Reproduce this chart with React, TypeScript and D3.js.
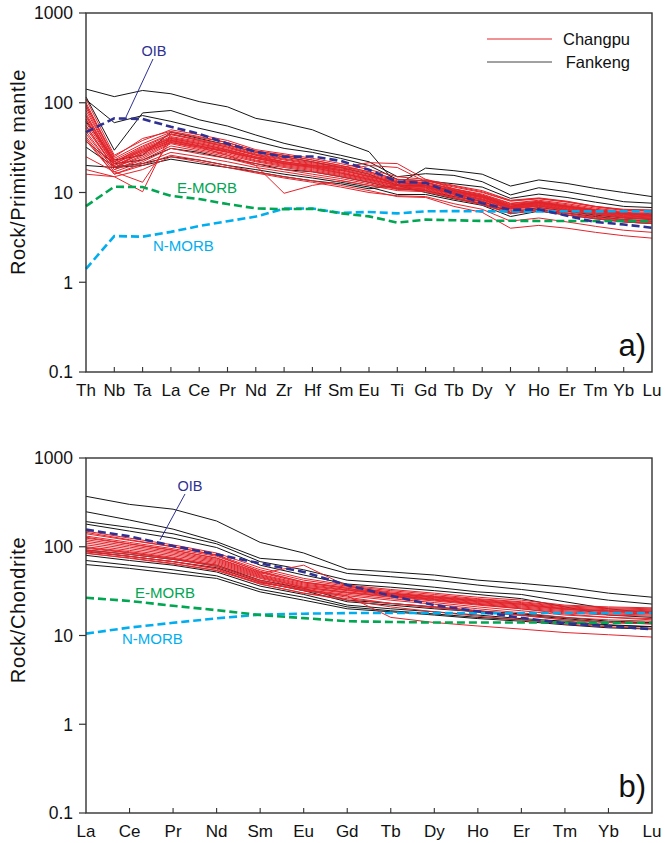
import React from "react";
import * as d3 from "d3";

// ---------- element orders ----------
const PM_ELEMENTS = ["Th","Nb","Ta","La","Ce","Pr","Nd","Zr","Hf","Sm","Eu","Ti","Gd","Tb","Dy","Y","Ho","Er","Tm","Yb","Lu"];
const REE_ELEMENTS = ["La","Ce","Pr","Nd","Sm","Eu","Gd","Tb","Dy","Ho","Er","Tm","Yb","Lu"];
const Y_TICKS = [0.1, 1, 10, 100, 1000];

// ---------- reference basalts, primitive-mantle normalised ----------
const OIB_PM = [47,67,66,54,45,35,28.4,25,25.2,22.5,17.9,13.2,12.8,9.7,7.6,6.4,6.5,5.5,4.7,4.4,4.05];
const EMORB_PM = [7.06,11.6,11.5,9.17,8.45,7.43,6.65,6.52,6.57,5.86,5.42,4.62,4.98,4.91,4.82,4.84,4.82,4.81,4.81,4.81,4.78];
const NMORB_PM = [1.41,3.27,3.22,3.64,4.23,4.78,5.39,6.61,6.63,5.92,6.07,5.85,6.17,6.2,6.17,6.15,6.16,6.19,6.16,6.19,6.15];

// ---------- reference basalts, chondrite normalised ----------
const OIB_C = [156,131,102,82,65,52,37,28,22,18.7,15.8,13.7,12.7,11.8];
const EMORB_C = [26.6,24.5,21.6,19.3,17,15.7,14.5,14.2,14,14,14,14,13.9,13.9];
const NMORB_C = [10.5,12.3,13.9,15.6,17.2,17.6,17.9,17.9,17.9,17.8,17.9,17.9,17.9,17.9];

// ---------- Fankeng samples, primitive-mantle normalised ----------
const FANKENG_PM = [
  [142,117,137,126,103,90,67,59,50,37,28.5,12.2,18.7,17.5,16,11.8,13.8,12.6,11.1,10,9],
  [116,29.6,77,82,64.6,55,43.7,35.3,30,26,22,15,16.2,15.5,13.2,9.4,11.3,10.2,9,7.9,7.6],
  [108,60,72,62,52,44,37,31,28,24,20,14,13.5,12.5,11.5,8.6,9.6,8.8,7.8,7,6.8],
  [62,23,26,47,40,34,28,25,22,19,16,12,12,10.5,9,7,7.8,7,6.3,5.8,5.6],
  [37,21,23,31,28,24,21,18,17,15,13,11,10.5,9,8,6,6.8,6.2,5.6,5.2,5],
  [32,19.4,21,25,23,20,18,16,14.5,13,11.5,9.5,9.5,8.2,7.2,5.4,6.2,5.6,5.1,4.7,4.5],
  [20,19,20,23.5,21,19,17,15,13.5,12.5,11,12,10,8.5,7.5,5.8,6.5,5.9,5.4,5,4.8],
];

// ---------- Changpu samples, primitive-mantle normalised ----------
const CHANGPU_PM = [
  [110,26,38,50,44,38,30,27,24,21,18,15,14,12,10.5,8.2,8.7,8,7,6.5,6.4],
  [100,24,35,47,41,36,29,26,23,20,17,14,13.5,11.5,10,8,8.5,7.8,6.9,6.3,6.2],
  [95,23,33,45,39,34,28,25,22,19.5,16.5,13.5,13,11,9.6,7.6,8.2,7.5,6.7,6.1,6],
  [88,22,32,44,38,33,27,24,21.5,19,16,13.2,12.8,10.8,9.4,7.5,8,7.3,6.5,6,5.8],
  [82,22,31,42,37,32,26.5,23.5,21,18.5,15.5,13,12.5,10.5,9.2,7.3,7.8,7.1,6.4,5.9,5.7],
  [76,21,30,41,36,31,26,23,20.5,18,15.2,12.8,12.2,10.3,9,7.2,7.7,7,6.3,5.8,5.6],
  [70,21,29,40,35,30,25,22,20,17.5,15,12.5,12,10.2,8.9,7,7.6,6.9,6.2,5.7,5.5],
  [65,20,28,39,34,29.5,24.5,21.5,19.5,17,14.6,12.3,11.8,10,8.7,6.9,7.5,6.8,6.1,5.6,5.4],
  [60,20,27,38,33,29,24,21,19,16.6,14.3,12,11.6,9.8,8.5,6.8,7.3,6.6,6,5.5,5.3],
  [56,19,26,37,32,28,23,20.5,18.5,16.2,14,11.8,11.4,9.6,8.3,6.7,7.2,6.5,5.9,5.4,5.2],
  [52,19,25,36,31,27,22.5,20,18,15.8,13.7,11.5,11.2,9.5,8.2,6.6,7.1,6.4,5.8,5.3,5.1],
  [48,18,24,35,30,26,22,19.5,17.5,15.4,13.4,11.3,11,9.3,8,6.5,7,6.3,5.7,5.2,5],
  [45,18,23,33,29,25,21,19,17,15,13,11,10.8,9.1,7.8,6.3,6.8,6.1,5.5,5,4.8],
  [42,17,22,31,27,24,20,18,16,14.3,12.5,10.8,10.5,8.8,7.6,6.1,6.6,5.9,5.3,4.9,4.7],
  [40,16,21,28,25,22,19,17,15.2,13.6,12,10.5,10.2,8.6,7.3,5.8,6.3,5.6,5.1,4.7,4.5],
  [18,15,10.2,45,38,32,26,22,20,18,15,13,12,10,8.8,6.8,7.4,6.7,6,5.5,5.3],
  [25,17,13,38,33,28,24,21,19,16.5,14,12,11.5,9.7,8.4,6.6,7.1,6.4,5.8,5.3,5.1],
  [55,19,28,36,32,26,20,9.8,12,13.5,12,11.2,10.5,8.7,7.5,5.9,6.4,5.8,5.2,4.8,4.6],
  [72,22,30,40,35,30,25,22,20,19,21.5,21,14,11,9.3,7.3,7.9,7.1,6.4,5.9,5.7],
  [66,21,29,38,33,28.5,24,21,19.5,17.5,20,19,13.2,10.6,9,7,7.6,6.9,6.2,5.7,5.5],
  [38,16,20,26,23,20,17,15,13.5,12,10.5,9,8.8,7,6,4,4.3,4,3.6,3.3,3.1],
  [16,15,18,25,22,19,16.5,14.5,13,11.5,10,9.2,9,7.5,6.5,4.8,5.2,4.7,4.2,3.8,3.6],
  [92,25,40,48,42,36,29,26,23,20,17,14,13.5,11.8,10.2,8.1,8.6,7.9,7,6.4,6.3],
];

// ---------- Fankeng samples, chondrite normalised ----------
const FANKENG_C = [
  [370,300,265,195,112,85,56,52,48,42,38.7,35,30,27],
  [248,200,158,114,74,68,50,46,42,37,33,29,25,22.6],
  [192,165,140,108,68,55,42,39,35,31,29,24,20,18],
  [180,150,125,98,62,48,38,35,32,29,26,21,17,16],
  [92,82,72,62,42,34,25,23,21,19,17.5,16,14.5,14],
  [88,78,68,58,40,32,24,22,20,18.5,17,15.5,14,13.8],
  [80,70,62,52,36,29,22,20,18.5,17,15.5,14.5,13.2,12.6],
  [70,62,55,47,33,27,21,19,17.5,16,15,14,13,12.5],
  [63,57,50,44,31,25,20,18.5,17,15.5,14.5,13.2,12.2,11.8],
];

// ---------- Changpu samples, chondrite normalised ----------
const CHANGPU_C = [
  [150,125,105,85,58,44,37,33,30,27,25,22,21,20.5],
  [140,118,100,81,55,42,36,32,29,26,24,21.5,20.5,20],
  [132,112,95,78,53,40,35,31,28,25.5,23.5,21,20,19.5],
  [125,107,91,75,51,39,34,30,27.5,25,23,20.5,19.5,19],
  [120,103,88,72,49,38,33,29.5,27,24.5,22.5,20,19,18.5],
  [115,99,85,70,48,37,32.5,29,26.5,24,22,19.8,18.8,18],
  [110,95,82,68,47,36,32,28.5,26,23.5,21.5,19.5,18.5,17.8],
  [105,91,79,66,46,35,31,28,25.5,23,21,19,18,17.5],
  [100,88,76,64,45,35,30.5,27.5,25,22.5,20.5,18.5,17.5,17],
  [96,85,74,62,44,34,30,27,24.5,22,20,18,17,16.5],
  [92,82,72,60,42,33,29,26,23.5,21,19,17,16,15.5],
  [88,78,68,57,40,32,28,25,22.5,20,18,16,15,14.5],
  [84,75,65,54,38,30,26,23,21,19,17,15,14,13.5],
  [128,108,92,74,50,62,36,30,27,24.5,22.5,20,19,18.5],
  [85,74,64,54,39,33,28,16,14,12.8,11.8,10.8,10.2,9.6],
  [90,78,68,56,38,30,25,21,18.5,16.5,15,13.5,12.5,12],
  [98,86,74,60,41,32,27,23,20.5,18.5,16.8,15,14,13.5],
  [145,120,100,80,52,40,34,28.5,25.5,22.5,20,17.5,16,15],
];

const RED = "#e3242b";
const BLACK = "#151515";
const OIB_COLOR = "#2e3192";
const EMORB_COLOR = "#00a651";
const NMORB_COLOR = "#00aeef";
const FONT = "'Liberation Sans', Arial, Helvetica, sans-serif";

type PanelProps = {
  elements: string[];
  top: number;
  bottom: number;
  yTitle: string;
  yTitleCenter: number;
  tag: string;
  fankeng: number[][];
  changpu: number[][];
  oib: number[];
  emorb: number[];
  nmorb: number[];
  oibLabel: { x: number; y: number; x1: number; y1: number; x2: number; y2: number };
  emorbLabel: { x: number; y: number };
  nmorbLabel: { x: number; y: number };
  legend?: boolean;
};

const LEFT = 86;
const RIGHT = 652;

function Panel(p: PanelProps) {
  const x = d3.scalePoint<string>().domain(p.elements).range([LEFT, RIGHT]);
  const y = d3.scaleLog().domain([0.1, 1000]).range([p.bottom, p.top]);
  const line = d3
    .line<number>()
    .x((_, i) => x(p.elements[i]) as number)
    .y((d) => y(d));

  const dashed = (vals: number[], color: string) => (
    <path d={line(vals) || ""} fill="none" stroke={color} strokeWidth={2.6} strokeDasharray="8 4" />
  );

  return (
    <g>
      {/* sample patterns */}
      {p.fankeng.map((s, i) => (
        <path key={"f" + i} d={line(s) || ""} fill="none" stroke={BLACK} strokeWidth={1} />
      ))}
      {p.changpu.map((s, i) => (
        <path key={"c" + i} d={line(s) || ""} fill="none" stroke={RED} strokeWidth={1} />
      ))}
      {/* reference basalts */}
      {dashed(p.nmorb, NMORB_COLOR)}
      {dashed(p.emorb, EMORB_COLOR)}
      {dashed(p.oib, OIB_COLOR)}

      {/* frame */}
      <rect x={LEFT} y={p.top} width={RIGHT - LEFT} height={p.bottom - p.top} fill="none" stroke="#333" strokeWidth={1.4} />

      {/* y axis */}
      {Y_TICKS.map((t) => (
        <g key={t}>
          <line x1={LEFT - 7} x2={LEFT} y1={y(t)} y2={y(t)} stroke="#333" strokeWidth={1.2} />
          <text x={LEFT - 13} y={y(t)} dy="0.36em" textAnchor="end" fontSize={17.5} fontFamily={FONT} fill="#111">
            {t === 0.1 ? "0.1" : String(t)}
          </text>
        </g>
      ))}
      <text
        transform={`translate(25,${p.yTitleCenter}) rotate(-90)`}
        textAnchor="middle"
        fontSize={20}
        letterSpacing={0.6}
        fontFamily={FONT}
        fill="#111"
      >
        {p.yTitle}
      </text>

      {/* x axis */}
      {p.elements.map((el, i) => (
        <g key={el}>
          {i > 0 && i < p.elements.length - 1 && (
            <line x1={x(el)} x2={x(el)} y1={p.bottom} y2={p.bottom - 5} stroke="#333" strokeWidth={1.1} />
          )}
          <text x={x(el)} y={p.bottom + 24} textAnchor="middle" fontSize={17} fontFamily={FONT} fill="#111">
            {el}
          </text>
        </g>
      ))}

      {/* annotations */}
      <line x1={p.oibLabel.x1} y1={p.oibLabel.y1} x2={p.oibLabel.x2} y2={p.oibLabel.y2} stroke={OIB_COLOR} strokeWidth={1} />
      <text x={p.oibLabel.x} y={p.oibLabel.y} textAnchor="middle" fontSize={14.5} fontFamily={FONT} fill={OIB_COLOR}>
        OIB
      </text>
      <text x={p.emorbLabel.x} y={p.emorbLabel.y} fontSize={15} fontFamily={FONT} fill={EMORB_COLOR}>
        E-MORB
      </text>
      <text x={p.nmorbLabel.x} y={p.nmorbLabel.y} fontSize={15} fontFamily={FONT} fill={NMORB_COLOR}>
        N-MORB
      </text>
      <text x={646} y={p.bottom - 16} textAnchor="end" fontSize={31} fontFamily={FONT} fill="#111">
        {p.tag}
      </text>

      {p.legend && (
        <g fontFamily={FONT} fontSize={16.5} fill="#111">
          <line x1={487} x2={552} y1={39} y2={39} stroke={RED} strokeWidth={1} />
          <text x={630} y={39} dy="0.36em" textAnchor="end">Changpu</text>
          <line x1={487} x2={552} y1={62} y2={62} stroke="#444" strokeWidth={1} />
          <text x={630} y={62} dy="0.36em" textAnchor="end">Fankeng</text>
        </g>
      )}
    </g>
  );
}

export default function App() {
  return (
    <svg
      width={665}
      height={843}
      viewBox="0 0 665 843"
      style={{ position: "absolute", left: 0, top: 0, background: "#fff" }}
    >
      <rect width={665} height={843} fill="#fff" />
      <Panel
        elements={PM_ELEMENTS}
        top={13}
        bottom={372}
        yTitle="Rock/Primitive mantle"
        yTitleCenter={172}
        tag="a)"
        fankeng={FANKENG_PM}
        changpu={CHANGPU_PM}
        oib={OIB_PM}
        emorb={EMORB_PM}
        nmorb={NMORB_PM}
        oibLabel={{ x: 154, y: 56, x1: 153, y1: 59, x2: 126, y2: 117 }}
        emorbLabel={{ x: 177, y: 193 }}
        nmorbLabel={{ x: 153, y: 251 }}
        legend
      />
      <Panel
        elements={REE_ELEMENTS}
        top={458}
        bottom={813}
        yTitle="Rock/Chondrite"
        yTitleCenter={610}
        tag="b)"
        fankeng={FANKENG_C}
        changpu={CHANGPU_C}
        oib={OIB_C}
        emorb={EMORB_C}
        nmorb={NMORB_C}
        oibLabel={{ x: 190, y: 491, x1: 185, y1: 494, x2: 160, y2: 540 }}
        emorbLabel={{ x: 135, y: 598 }}
        nmorbLabel={{ x: 122, y: 644 }}
      />
    </svg>
  );
}
